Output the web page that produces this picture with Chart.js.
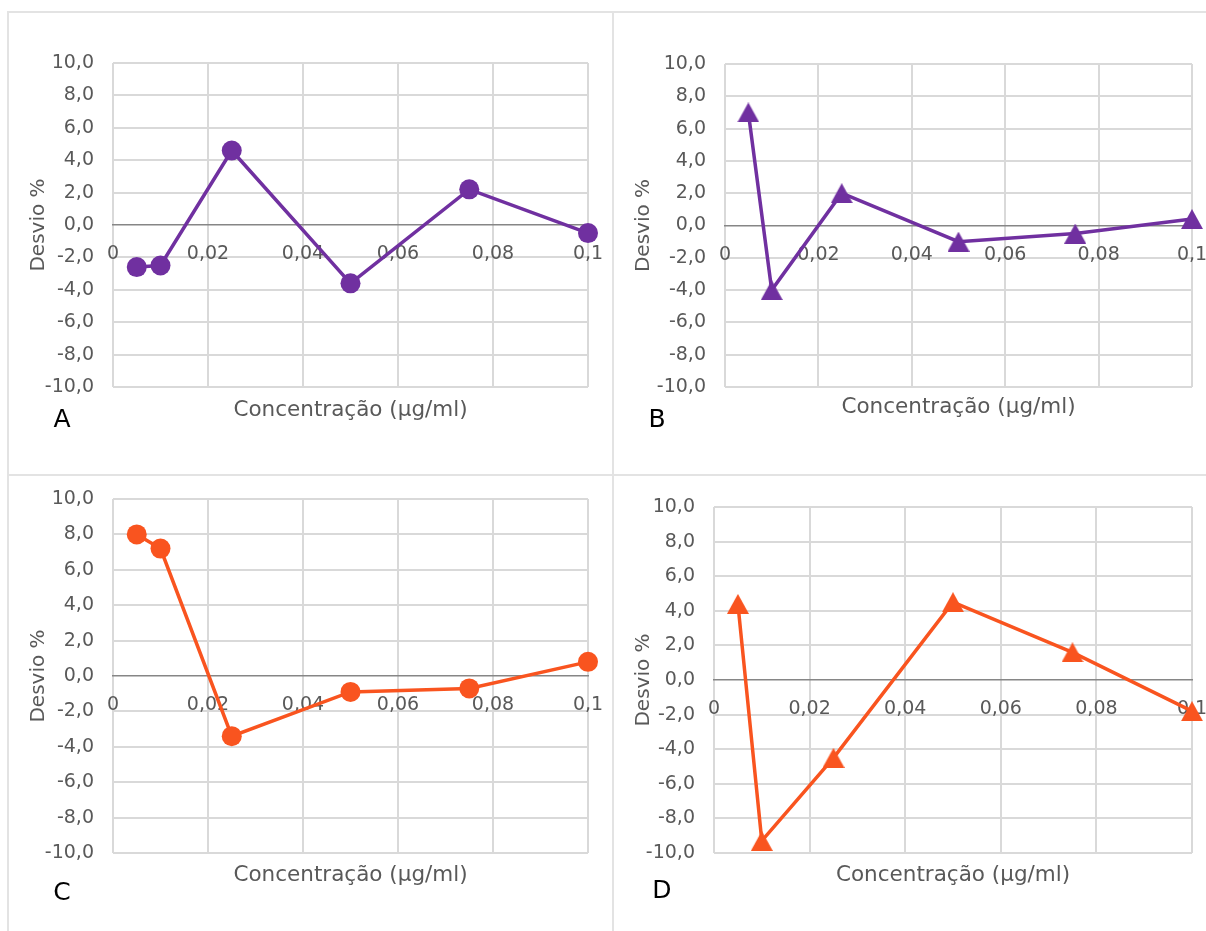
<!DOCTYPE html>
<html lang="pt">
<head>
<meta charset="UTF-8">
<title>Desvio % vs Concentração</title>
<script src="https://cdn.jsdelivr.net/npm/chart.js"></script>
<style>
  body { margin: 0; background: #fff; font-family: 'DejaVu Sans', sans-serif; }
  .page { position: relative; width: 1206px; height: 931px; overflow: hidden; background: #fff; }
  .frame { position: absolute; background: #e3e3e3; }
  canvas { position: absolute; }
  .letter { position: absolute; font-size: 25px; line-height: 1; color: #000; transform: translate(-50%, -50%); }
</style>
</head>
<body>
<div class="page">
  <div class="frame" style="left:7px;top:11px;width:1199px;height:2px"></div>
  <div class="frame" style="left:7px;top:11px;width:2px;height:920px"></div>
  <div class="frame" style="left:612px;top:11px;width:2px;height:920px"></div>
  <div class="frame" style="left:7px;top:474px;width:1199px;height:2px"></div>

  <canvas id="chartA" width="602" height="460" style="left:10px;top:14px"></canvas>
  <canvas id="chartB" width="591" height="460" style="left:615px;top:14px"></canvas>
  <canvas id="chartC" width="602" height="454" style="left:10px;top:477px"></canvas>
  <canvas id="chartD" width="591" height="454" style="left:615px;top:477px"></canvas>

  <div class="letter" style="left:62px;top:418px">A</div>
  <div class="letter" style="left:657px;top:418px">B</div>
  <div class="letter" style="left:62px;top:891px">C</div>
  <div class="letter" style="left:662px;top:889px">D</div>
</div>

<script>
    // data
    const concentracoes = [0.005, 0.01, 0.025, 0.05, 0.075, 0.1];
    const desvioA = [-2.6, -2.5, 4.6, -3.6, 2.2, -0.5];
    const desvioB = [7.0, -4.0, 2.0, -1.0, -0.5, 0.4];
    const desvioC = [8.0, 7.2, -3.4, -0.9, -0.7, 0.8];
    const desvioD = [4.4, -9.3, -4.5, 4.5, 1.6, -1.8];

    const xTickLabels = ['0', '0,02', '0,04', '0,06', '0,08', '0,1'];
    const yTickLabels = ['-10,0', '-8,0', '-6,0', '-4,0', '-2,0', '0,0', '2,0', '4,0', '6,0', '8,0', '10,0'];
    const xTitle = 'Concentração (µg/ml)';
    const yTitle = 'Desvio %';

    const purple = '#7030A0';
    const orange = '#F9541F';
    const textGray = '#595959';
    const gridGray = '#d9d9d9';
    const axisGray = '#868686';
    const fontName = 'DejaVu Sans';

    // Excel-style triangle: centred on its bounding box, not on its centroid
    function triangleMarker(color) {
        var c = document.createElement('canvas');
        c.width = 22;
        c.height = 20;
        var g = c.getContext('2d');
        g.fillStyle = color;
        g.beginPath();
        g.moveTo(11, 0);
        g.lineTo(22, 20);
        g.lineTo(0, 20);
        g.closePath();
        g.fill();
        return c;
    }

    function makeChart(id, values, color, marker, box) {
        var canvas = document.getElementById(id);
        var titleSize = 21.5;
        var titleLine = titleSize * 1.2;
        var titlePadTop = box.titleY - box.plotBottom - titleLine / 2;
        var padLeft = 6;

        return new Chart(canvas, {
            type: 'line',
            data: {
                datasets: [{
                    data: concentracoes.map(function (c, i) { return { x: c, y: values[i] }; }),
                    borderColor: color,
                    backgroundColor: color,
                    borderWidth: 3.5,
                    pointStyle: marker === 'circle' ? 'circle' : triangleMarker(color),
                    pointRadius: 10,
                    pointBorderWidth: 0,
                    pointBackgroundColor: color,
                    tension: 0,
                    clip: false
                }]
            },
            options: {
                responsive: false,
                animation: false,
                layout: {
                    padding: {
                        left: padLeft,
                        top: box.plotTop,
                        right: canvas.width - box.plotRight,
                        bottom: canvas.height - box.plotBottom - titleLine - titlePadTop
                    }
                },
                plugins: {
                    legend: { display: false },
                    tooltip: { enabled: false },
                    title: {
                        display: true,
                        text: xTitle,
                        position: 'bottom',
                        fullSize: false,
                        color: textGray,
                        font: { family: fontName, size: titleSize, weight: 'normal' },
                        padding: { top: titlePadTop, bottom: 0 }
                    }
                },
                scales: {
                    x: {
                        type: 'linear',
                        position: { y: 0 },
                        min: 0,
                        max: 0.1,
                        grid: { color: gridGray, lineWidth: 2, drawTicks: false },
                        border: { color: axisGray, width: 1.5 },
                        ticks: {
                            stepSize: 0.02,
                            autoSkip: false,
                            maxRotation: 0,
                            padding: 18,
                            color: textGray,
                            font: { family: fontName, size: 19 },
                            callback: function (v, i) { return xTickLabels[i]; }
                        },
                        afterFit: function (s) { s.paddingLeft = 0; s.paddingRight = 0; }
                    },
                    y: {
                        min: -10,
                        max: 10,
                        grid: {
                            color: function (c) { return c.tick && c.tick.value === 0 ? 'rgba(0,0,0,0)' : gridGray; },
                            lineWidth: 2,
                            drawTicks: false
                        },
                        border: { display: false },
                        ticks: {
                            stepSize: 2,
                            padding: 19,
                            color: textGray,
                            font: { family: fontName, size: 19 },
                            callback: function (v, i) { return yTickLabels[i]; }
                        },
                        title: {
                            display: true,
                            text: yTitle,
                            color: textGray,
                            font: { family: fontName, size: 20 },
                            padding: { top: 11, bottom: 0 }
                        },
                        afterFit: function (s) {
                            s.width = box.plotLeft - padLeft;
                            s.paddingTop = 0;
                            s.paddingBottom = 0;
                        }
                    }
                }
            }
        });
    }

    makeChart('chartA', desvioA, purple, 'circle',   { plotLeft: 103, plotRight: 578, plotTop: 49, plotBottom: 373, titleY: 396 });
    makeChart('chartB', desvioB, purple, 'triangle', { plotLeft: 110, plotRight: 577, plotTop: 50, plotBottom: 373, titleY: 393 });
    makeChart('chartC', desvioC, orange, 'circle',   { plotLeft: 103, plotRight: 578, plotTop: 22, plotBottom: 376, titleY: 398 });
    makeChart('chartD', desvioD, orange, 'triangle', { plotLeft: 99,  plotRight: 577, plotTop: 30, plotBottom: 376, titleY: 398 });
</script>
</body>
</html>
